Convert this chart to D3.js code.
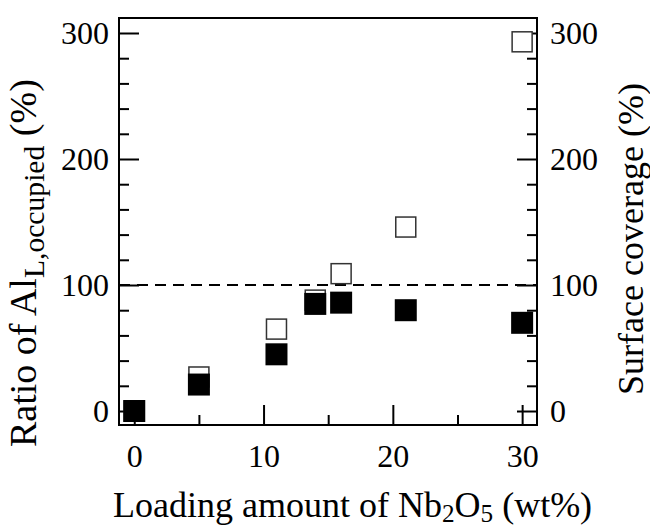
<!DOCTYPE html>
<html>
<head>
<meta charset="utf-8">
<script src="https://cdn.jsdelivr.net/npm/d3@7"></script>
<style>
  html, body { margin: 0; padding: 0; background: #fff; }
</style>
</head>
<body>
<svg id="chart" width="650" height="527"></svg>
<script>
// Nb2O5 loading (wt%)
const loading = [0, 5, 11, 14, 16, 21, 30];
// Ratio of Al_L,occupied (%) — filled squares, left axis
const ratioOccupied = [0, 21, 45, 85, 86, 80, 70];
// Surface coverage (%) — open squares, right axis
const surfaceCoverage = [0, 27, 65, 88, 109, 146, 293];

const xMajorTicks = [0, 10, 20, 30];
const xMinorTicks = [5, 15, 25];
const yMajorTicks = [0, 100, 200, 300];
const yMinorTicks = [20, 40, 60, 80, 120, 140, 160, 180, 220, 240, 260, 280];
const referenceLevel = 100;

const FONT = "\"Liberation Serif\", Tinos, monospace";

const svg = d3.select("#chart").attr("font-family", FONT);
const plot = { left: 119, top: 18, right: 537, bottom: 425 };

const x = d3.scaleLinear().domain([-1.18, 31.15]).range([plot.left, plot.right]);
const yL = d3.scaleLinear().domain([-11.1, 311.9]).range([plot.bottom, plot.top]);
const yR = d3.scaleLinear().domain([-11.1, 311.9]).range([plot.bottom, plot.top]);

const tickFont = 32;

// Dashed reference line at 100 %
svg.append("line")
  .attr("x1", plot.left).attr("x2", plot.right)
  .attr("y1", yL(referenceLevel)).attr("y2", yL(referenceLevel))
  .attr("stroke", "#000").attr("stroke-width", 2)
  .attr("stroke-dasharray", "11,7");

// Axes with inward ticks
function styleAxis(g) {
  g.attr("font-family", FONT);
  g.select(".domain").remove();
  g.selectAll("line").attr("stroke", "#000").attr("stroke-width", 2);
  g.selectAll("text").attr("font-size", tickFont).attr("fill", "#000")
    .attr("font-family", FONT);
}

// bottom
svg.append("g").attr("transform", `translate(0,${plot.bottom})`)
  .call(d3.axisBottom(x).tickValues(xMinorTicks).tickSize(-10).tickFormat(""))
  .call(styleAxis);
svg.append("g").attr("transform", `translate(0,${plot.bottom})`)
  .call(d3.axisBottom(x).tickValues(xMajorTicks).tickSize(-20).tickPadding(19).tickFormat(d3.format("d")))
  .call(styleAxis)
  .selectAll("text").attr("dy", "0.71em");

// left
svg.append("g").attr("transform", `translate(${plot.left},0)`)
  .call(d3.axisLeft(yL).tickValues(yMinorTicks).tickSize(-10).tickFormat(""))
  .call(styleAxis);
svg.append("g").attr("transform", `translate(${plot.left},0)`)
  .call(d3.axisLeft(yL).tickValues(yMajorTicks).tickSize(-20).tickPadding(10).tickFormat(d3.format("d")))
  .call(styleAxis);

// right
svg.append("g").attr("transform", `translate(${plot.right},0)`)
  .call(d3.axisRight(yR).tickValues(yMinorTicks).tickSize(-10).tickFormat(""))
  .call(styleAxis);
svg.append("g").attr("transform", `translate(${plot.right},0)`)
  .call(d3.axisRight(yR).tickValues(yMajorTicks).tickSize(-20).tickPadding(13).tickFormat(d3.format("d")))
  .call(styleAxis);

// frame
svg.append("rect")
  .attr("x", plot.left).attr("y", plot.top)
  .attr("width", plot.right - plot.left).attr("height", plot.bottom - plot.top)
  .attr("fill", "none").attr("stroke", "#000").attr("stroke-width", 2);

// open squares: surface coverage
const openSide = 20;
svg.append("g").selectAll("rect")
  .data(loading.map((d, i) => ({ x: d, y: surfaceCoverage[i] })))
  .join("rect")
  .attr("x", d => x(d.x) - openSide / 2)
  .attr("y", d => yR(d.y) - openSide / 2)
  .attr("width", openSide).attr("height", openSide)
  .attr("fill", "#fff").attr("stroke", "#333").attr("stroke-width", 1.5);

// filled squares: ratio of Al_L,occupied
const fillSide = 22;
svg.append("g").selectAll("rect")
  .data(loading.map((d, i) => ({ x: d, y: ratioOccupied[i] })))
  .join("rect")
  .attr("x", d => x(d.x) - fillSide / 2)
  .attr("y", d => yL(d.y) - fillSide / 2)
  .attr("width", fillSide).attr("height", fillSide)
  .attr("fill", "#000");

// axis titles
const xTitleFont = 36;
const xTitle = svg.append("text")
  .attr("x", 113).attr("y", 517)
  .attr("font-family", FONT)
  .attr("font-size", xTitleFont).attr("fill", "#000");
xTitle.append("tspan").text("Loading amount of Nb");
xTitle.append("tspan").attr("font-size", xTitleFont * 0.7).attr("dy", 5).text("2");
xTitle.append("tspan").attr("dy", -5).text("O");
xTitle.append("tspan").attr("font-size", xTitleFont * 0.7).attr("dy", 5).text("5");
xTitle.append("tspan").attr("dy", -5).text(" (wt%)");

const yTitleFont = 38;
const yTitle = svg.append("text")
  .attr("transform", "translate(36,447) rotate(-90)")
  .attr("font-family", FONT)
  .attr("font-size", yTitleFont).attr("fill", "#000");
yTitle.append("tspan").text("Ratio of Al");
yTitle.append("tspan").attr("font-size", yTitleFont * 0.78).attr("dy", 8).text("L,occupied");
yTitle.append("tspan").attr("dy", -8).text(" (%)");

svg.append("text")
  .attr("transform", "translate(643,239) rotate(-90)")
  .attr("text-anchor", "middle")
  .attr("font-family", FONT)
  .attr("font-size", 36).attr("fill", "#000")
  .text("Surface coverage (%)");
</script>
</body>
</html>
